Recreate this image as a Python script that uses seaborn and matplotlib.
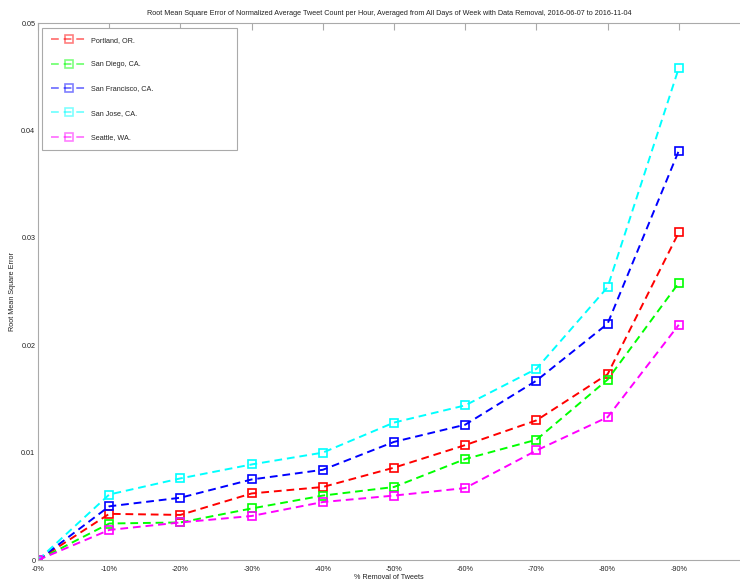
import numpy as np
import pandas as pd
import matplotlib
matplotlib.use("Agg")
import matplotlib.pyplot as plt
import seaborn as sns

# % of tweets removed (x positions are the category index)
removal = ["-0%", "-10%", "-20%", "-30%", "-40%", "-50%", "-60%", "-70%", "-80%", "-90%"]

cities = ["Portland, OR.", "San Diego, CA.", "San Francisco, CA.", "San Jose, CA.", "Seattle, WA."]

portland = [0.0, 0.0043, 0.0042, 0.0062, 0.0068, 0.0086, 0.0107, 0.0130, 0.0173, 0.0305]
san_diego = [0.0, 0.0034, 0.0035, 0.0048, 0.0060, 0.0068, 0.0094, 0.0112, 0.0168, 0.0258]
san_francisco = [0.0, 0.0050, 0.0058, 0.0075, 0.0084, 0.0110, 0.0126, 0.0167, 0.0220, 0.0381]
san_jose = [0.0, 0.0061, 0.0076, 0.0089, 0.0100, 0.0128, 0.0144, 0.0178, 0.0254, 0.0458]
seattle = [0.0, 0.0028, 0.0035, 0.0041, 0.0054, 0.0060, 0.0067, 0.0102, 0.0133, 0.0219]

colors = ["#ff0000", "#00ff00", "#0000ff", "#00ffff", "#ff00ff"]

series = [portland, san_diego, san_francisco, san_jose, seattle]
rows = []
for city, vals in zip(cities, series):
    for i, v in enumerate(vals):
        rows.append({"city": city, "idx": i, "rmse": v})
df = pd.DataFrame(rows)

sns.set_style("white")
plt.rcParams["font.family"] = ["Liberation Sans", "DejaVu Sans"]

fig = plt.figure(figsize=(7.4, 5.81), dpi=100)
ax = fig.add_axes([0.0514, 0.0361, 0.9486, 0.9243])

sns.lineplot(data=df, x="idx", y="rmse", hue="city", hue_order=cities,
             palette=dict(zip(cities, colors)), marker="s", linestyle="--",
             linewidth=1.4, markersize=6, markerfacecolor="none",
             markeredgewidth=1.2, legend=False, ax=ax)

for line in ax.lines:
    line.set_markeredgecolor(line.get_color())
    line.set_dashes((4, 2.5))

ax.set_xlim(0, 9.86)
ax.set_ylim(0, 0.05)
ax.set_xticks(range(len(removal)))
ax.set_xticklabels(removal)
ax.set_yticks([0, 0.01, 0.02, 0.03, 0.04, 0.05])
ax.set_yticklabels(["0", "0.01", "0.02", "0.03", "0.04", "0.05"])

ax.tick_params(axis="both", direction="in", length=5, width=0.8, color="#aaaaaa",
               labelsize=5.2, labelcolor="#222222", top=True, pad=2)
ax.tick_params(axis="x", pad=4)
for side in ["left", "bottom", "top"]:
    ax.spines[side].set_color("#aaaaaa")
    ax.spines[side].set_linewidth(0.8)
ax.spines["right"].set_visible(False)

ax.set_xlabel("% Removal of Tweets", fontsize=5.2, labelpad=1, color="#222222")
ax.set_ylabel("Root Mean Square Error", fontsize=5.2, labelpad=4, color="#222222")
ax.set_title("Root Mean Square Error of Normalized Average Tweet Count per Hour, "
             "Averaged from All Days of Week with Data Removal, 2016-06-07 to 2016-11-04",
             fontsize=5.2, pad=6, color="#222222")

leg = ax.legend(ax.lines, cities, loc="upper left",
                bbox_to_anchor=(0.0057, 0.7635, 0.278, 0.2272), mode="expand",
                fontsize=5.2, labelspacing=2.4, handlelength=5.0, handletextpad=0.6,
                borderpad=1.2, borderaxespad=0, fancybox=False, framealpha=1)
leg.get_frame().set_edgecolor("#aaaaaa")
leg.get_frame().set_linewidth(0.8)
for h in leg.legend_handles:
    h.set_alpha(0.5)

fig.savefig("out.png", dpi=100)
